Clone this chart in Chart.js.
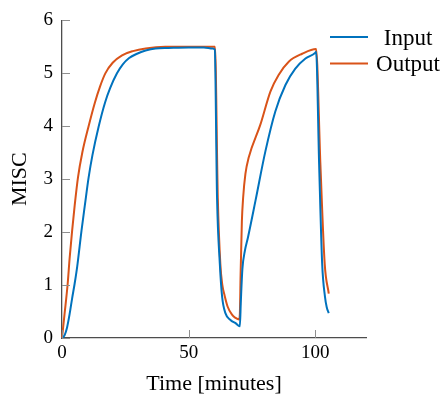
<!DOCTYPE html>
<html>
<head>
<meta charset="utf-8">
<script src="https://cdn.jsdelivr.net/npm/chart.js@4/dist/chart.umd.min.js"></script>
<style>
  html, body { margin: 0; padding: 0; background: #ffffff; }
  #wrap { width: 445px; height: 397px; }
</style>
</head>
<body>
<div id="wrap"><canvas id="c" width="445" height="397"></canvas></div>
<script>
// Time stamps [minutes] and signal values for each series
const inputTime = [0, 1, 2, 3, 4, 5, 6, 7.7, 9, 10.5, 12, 14.5, 17, 19, 21.7, 24, 26.5, 29.6, 33, 36.9, 42, 50, 56, 59.5, 60.3,
  61.2, 62.3, 63.2, 64.5, 66.5, 68.5, 70.2, 70.6, 71.2, 72.2, 73.4, 76.4, 80.3, 84.2, 88.2, 92.1, 96.1, 100, 100.3,
  101.5, 102.7, 103.8, 104.5, 105.3];
const inputValues = [0, 0.05, 0.2, 0.45, 0.75, 1.03, 1.35, 2.03, 2.5, 3.03, 3.45, 4.0, 4.45, 4.72, 5.0, 5.17, 5.29, 5.37, 5.43, 5.47, 5.48, 5.49, 5.49, 5.47, 5.45,
  2.65, 1.4, 0.78, 0.47, 0.34, 0.28, 0.22, 0.7, 1.3, 1.65, 1.9, 2.6, 3.53, 4.28, 4.78, 5.09, 5.28, 5.39, 5.41,
  3.28, 1.4, 0.78, 0.58, 0.47];

const outputTime = [0, 1, 2.25, 3, 4, 5, 6.3, 8, 10.5, 13, 15, 17.1, 20, 23.7, 28, 33, 40.8, 50, 60.4,
  61.5, 62.5, 63.3, 64.2, 65.4, 67.1, 68.5, 69.9, 70.2, 70.5, 71.0, 71.5, 72.4, 73.7, 78.3, 82.3, 85.5, 89.5, 94.8, 100.3,
  102, 103.7, 105.3];
const outputValues = [0, 0.45, 1.03, 1.5, 2.03, 2.5, 3.03, 3.5, 4.0, 4.45, 4.75, 5.0, 5.2, 5.34, 5.42, 5.47, 5.5, 5.5, 5.5,
  2.65, 1.4, 1.0, 0.8, 0.59, 0.44, 0.38, 0.35, 0.45, 1.2, 2.2, 2.65, 3.1, 3.41, 4.03, 4.66, 4.97, 5.22, 5.37, 5.46,
  3.28, 1.4, 0.84];

const seriesNames = ['Input', 'Output'];
const seriesColors = ['#0072BD', '#D95319'];

const xTickValues = [0, 50, 100];
const yTickValues = [0, 1, 2, 3, 4, 5, 6];

const serif = '"Liberation Serif", "DejaVu Serif", serif';

const toPoints = (ts, vs) => ts.map((t, i) => ({ x: t, y: vs[i] }));

// Short tick marks drawn inward from the left and bottom axis lines
const innerTicks = {
  id: 'innerTicks',
  afterDatasetsDraw(chart) {
    const { ctx, chartArea, scales } = chart;
    const len = 8;
    ctx.save();
    ctx.strokeStyle = '#8f8f8f';
    ctx.lineWidth = 1;
    scales.y.ticks.forEach(t => {
      const py = Math.round(scales.y.getPixelForValue(t.value)) + 0.5;
      ctx.beginPath();
      ctx.moveTo(chartArea.left, py);
      ctx.lineTo(chartArea.left + len, py);
      ctx.stroke();
    });
    scales.x.ticks.forEach(t => {
      const px = Math.round(scales.x.getPixelForValue(t.value)) + 0.5;
      ctx.beginPath();
      ctx.moveTo(px, chartArea.bottom);
      ctx.lineTo(px, chartArea.bottom - len);
      ctx.stroke();
    });
    ctx.restore();
  }
};

// Legend in the upper right corner: line sample plus centred series name
const sideLegend = {
  id: 'sideLegend',
  afterDraw(chart) {
    const { ctx } = chart;
    ctx.save();
    ctx.font = '23px ' + serif;
    ctx.textAlign = 'center';
    ctx.textBaseline = 'alphabetic';
    chart.data.datasets.forEach((ds, i) => {
      const y = 37 + i * 26.5;
      ctx.strokeStyle = ds.borderColor;
      ctx.lineWidth = 2;
      ctx.beginPath();
      ctx.moveTo(330, y);
      ctx.lineTo(368, y);
      ctx.stroke();
      ctx.fillStyle = '#000';
      ctx.fillText(ds.label, 408, y + 7.5);
    });
    ctx.restore();
  }
};

new Chart(document.getElementById('c'), {
  type: 'line',
  data: {
    datasets: [
      { label: seriesNames[0], data: toPoints(inputTime, inputValues), borderColor: seriesColors[0] },
      { label: seriesNames[1], data: toPoints(outputTime, outputValues), borderColor: seriesColors[1] }
    ].map(d => Object.assign(d, {
      borderWidth: 2,
      pointRadius: 0,
      fill: false,
      cubicInterpolationMode: 'monotone',
      clip: false
    }))
  },
  options: {
    responsive: false,
    animation: false,
    devicePixelRatio: 1,
    layout: { padding: { top: 18, right: 79, left: 0, bottom: 0 } },
    plugins: { legend: { display: false }, tooltip: { enabled: false } },
    scales: {
      x: {
        type: 'linear',
        min: 0,
        max: 120,
        afterBuildTicks: s => { s.ticks = xTickValues.map(v => ({ value: v })); },
        afterFit: s => { s.height = 59; },
        grid: { display: true, drawOnChartArea: false, drawTicks: false },
        border: { display: true, color: '#4d4d4d', width: 1.3 },
        ticks: { color: '#000', font: { family: serif, size: 19 }, padding: 4, maxRotation: 0 },
        title: { display: true, text: 'Time [minutes]', color: '#000', font: { family: serif, size: 22 }, padding: { top: 4, bottom: 0 } }
      },
      y: {
        type: 'linear',
        min: 0,
        max: 6,
        afterBuildTicks: s => { s.ticks = yTickValues.map(v => ({ value: v })); },
        afterFit: s => { s.width = 62; },
        grid: { display: true, drawOnChartArea: false, drawTicks: false },
        border: { display: true, color: '#4d4d4d', width: 1.3 },
        ticks: { color: '#000', font: { family: serif, size: 19 }, padding: 9 },
        title: { display: true, text: 'MISC', color: '#000', font: { family: serif, size: 22 }, padding: { top: 7, bottom: 0 } }
      }
    }
  },
  plugins: [innerTicks, sideLegend]
});
</script>
</body>
</html>
